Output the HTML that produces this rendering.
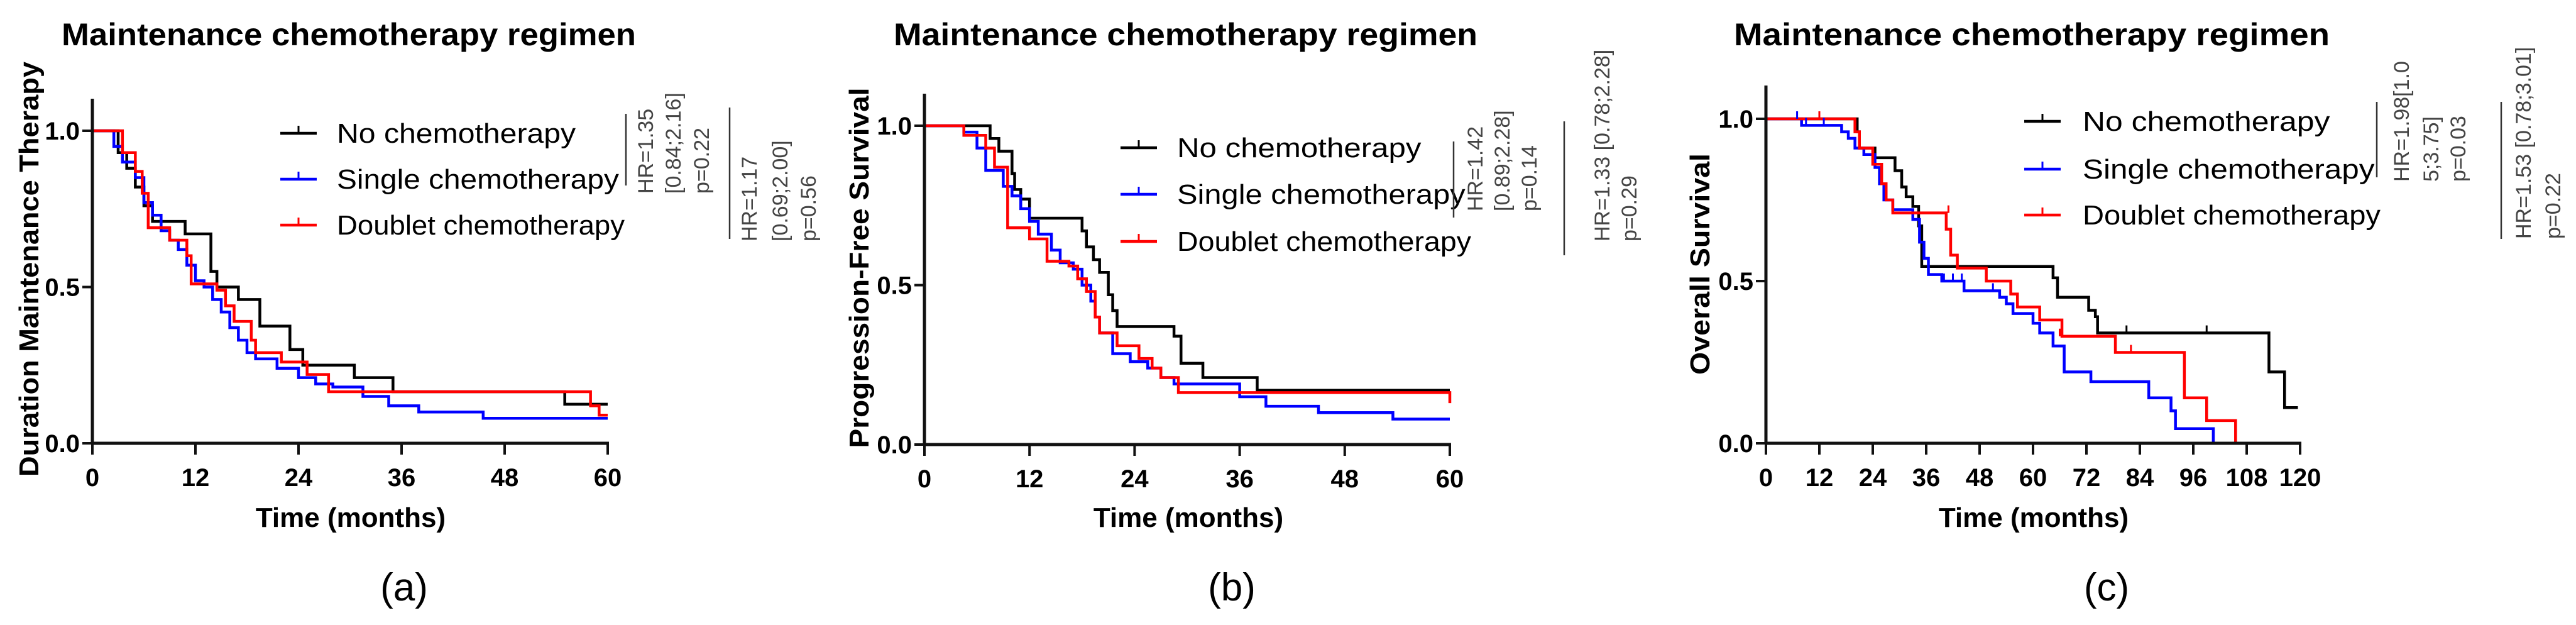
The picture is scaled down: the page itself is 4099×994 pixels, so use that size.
<!DOCTYPE html>
<html><head><meta charset="utf-8"><style>
html,body{margin:0;padding:0;background:#fff;}
svg{display:block;font-family:"Liberation Sans",Arial,sans-serif;}
</style></head><body>
<svg id="chart" width="4099" height="994" viewBox="0 0 4099 994" xmlns="http://www.w3.org/2000/svg"></svg>
<script>
// Panel (a) Duration maintenance therapy
const aBlackT=[0,3,4,5,6,7,10.8,13.8,14.5,17,19.5,23,24.5,30.5,35,55,60];
const aBlackS=[1,0.93,0.88,0.82,0.76,0.71,0.67,0.55,0.50,0.46,0.375,0.30,0.25,0.21,0.165,0.125,0.125];
const aBlueT=[0,2.5,3.5,5,6,7,8,9,10,11,12,13,14,15,16,17,18,19,21.5,24,26,28,31.5,34.5,38,45.5,60];
const aBlueS=[1,0.95,0.90,0.85,0.77,0.73,0.68,0.65,0.62,0.57,0.52,0.50,0.46,0.42,0.37,0.33,0.29,0.27,0.24,0.21,0.19,0.18,0.15,0.12,0.10,0.08,0.08];
const aRedT=[0,3.5,5,5.8,6.5,9,11,11.5,14.5,15.5,16.5,18.5,19,22,25,27.5,58,59,60];
const aRedS=[1,0.93,0.87,0.80,0.69,0.65,0.60,0.51,0.49,0.44,0.39,0.33,0.29,0.26,0.22,0.165,0.12,0.09,0.09];
// Panel (b) Progression-free survival
const bBlackT=[0,7.5,8.5,10,10.3,11,12,18,18.5,19.3,20,21,21.5,22,28.5,29.3,31.8,38,60];
const bBlackS=[1,0.96,0.92,0.85,0.80,0.77,0.71,0.67,0.62,0.58,0.54,0.47,0.42,0.37,0.34,0.255,0.21,0.17,0.17];
const bBlueT=[0,4.5,6,7,9,10,11,12,13,14.5,15.5,17,18,19,19.5,20,21.5,23.5,25.5,27,28.5,36,39,45,53.5,60];
const bBlueS=[1,0.98,0.93,0.86,0.81,0.78,0.74,0.70,0.66,0.61,0.57,0.55,0.50,0.45,0.40,0.35,0.285,0.26,0.24,0.21,0.19,0.15,0.12,0.10,0.08,0.08];
const bRedT=[0,4.5,7,8,9.5,12,14,16.5,17.5,18.5,19.5,20,22,24.5,26,27,29,60];
const bRedS=[1,0.97,0.93,0.87,0.68,0.645,0.575,0.56,0.52,0.48,0.40,0.35,0.31,0.27,0.24,0.21,0.163,0.13];
// Panel (c) Overall survival
const cBlackT=[0,20.5,21,24.5,29,30.5,31.5,33,34.3,35,64.5,65.5,72.5,74,74.5,113,116.5,119.5];
const cBlackS=[1,0.96,0.91,0.88,0.84,0.79,0.76,0.73,0.67,0.545,0.51,0.45,0.41,0.39,0.34,0.22,0.11,0.11];
const cBlueT=[0,8,17,18.5,20,22,24.5,25.5,26.5,28.5,33,34.5,35.5,36.5,39.5,44.5,52.5,54,55.5,60,61.5,64.5,67,73,86,91,92,100.5];
const cBlueS=[1,0.98,0.96,0.94,0.91,0.89,0.85,0.80,0.75,0.72,0.69,0.62,0.57,0.52,0.50,0.47,0.45,0.43,0.40,0.37,0.34,0.30,0.22,0.19,0.14,0.10,0.045,0];
const cRedT=[0,20,21,24,26,27,28.5,40.5,41.5,43,49.5,55,56.5,61.5,66.5,78.5,94,99,105.5];
const cRedS=[1,0.96,0.91,0.86,0.80,0.75,0.71,0.66,0.58,0.54,0.50,0.46,0.42,0.38,0.33,0.28,0.14,0.07,0];
// Censor marks
const cBlackCensT=[29,74,81,99];
const cBlackCensS=[0.84,0.39,0.34,0.34];
const cRedCensT=[12,41,66,82];
const cRedCensS=[1,0.71,0.33,0.28];
const cBlueCensT=[7,9,13,40,42,44,51];
const cBlueCensS=[1,0.98,0.98,0.50,0.50,0.50,0.47];

const xTicksA=[0,12,24,36,48,60];
const xTicksC=[0,12,24,36,48,60,72,84,96,108,120];
const yTicks=[0,0.5,1.0];
const yTickLabels=["0.0","0.5","1.0"];
const legendLabels=["No chemotherapy","Single chemotherapy","Doublet chemotherapy"];
const colors=["#000","#0000ff","#ff0000"];

const NS="http://www.w3.org/2000/svg";
const svg=document.getElementById('chart');
function mk(tag,attrs,parent,text){const e=document.createElementNS(NS,tag);for(const k in attrs)e.setAttribute(k,attrs[k]);if(text!==undefined)e.textContent=text;(parent||svg).appendChild(e);return e;}

const panels=[
 {id:'a',x0:147,x1:967,y0:705,y1:208,ytop:157,xmax:60,ticks:xTicksA,ylabel:"Duration Maintenance Therapy",ylx:45,ylyc:428,ylw:660,
  title:[98,1012],leg:{lx:446,tx:536,ys:[212,285,358],tw:458},xlab:558,cap:643,capT:"(a)",
  series:[[aBlackT,aBlackS],[aBlueT,aBlueS],[aRedT,aRedS]],
  hr:[{line:[996,181,295],tx:[1027,1071,1116],bot:308,lines:["HR=1.35","[0.84;2.16]","p=0.22"]},
      {line:[1161,171,380],tx:[1192,1241,1286],bot:384,lines:["HR=1.17","[0.69;2.00]","p=0.56"]}]},
 {id:'b',x0:1471,x1:2307,y0:707,y1:200,ytop:149,xmax:60,ticks:xTicksA,ylabel:"Progression-Free Survival",ylx:1366,ylyc:426,ylw:573,
  title:[1422,2351],leg:{lx:1783,tx:1873,ys:[235,309,384],tw:468},xlab:1891,cap:1960,capT:"(b)",
  series:[[bBlackT,bBlackS],[bBlueT,bBlueS],[bRedT,bRedS]],
  hr:[{line:[2313,225,346],tx:[2347,2390,2433],bot:336,lines:["HR=1.42","[0.89;2.28]","p=0.14"]},
      {line:[2489,193,406],tx:[2549,2592],bot:384,lines:["HR=1.33 [0.78;2.28]","p=0.29"]}]},
 {id:'c',x0:2810,x1:3660,y0:705,y1:189,ytop:136,xmax:120,ticks:xTicksC,ylabel:"Overall Survival",ylx:2704,ylyc:420,ylw:352,
  title:[2759,3707],leg:{lx:3221,tx:3314,ys:[193,269,342],tw:474},xlab:3236,cap:3352,capT:"(c)",
  series:[[cBlackT,cBlackS],[cBlueT,cBlueS],[cRedT,cRedS]],
  cens:[[cBlackCensT,cBlackCensS],[cBlueCensT,cBlueCensS],[cRedCensT,cRedCensS]],
  hr:[{line:[3782,162,282],tx:[3821,3868,3911],bot:289,lines:["HR=1.98[1.0","5;3.75]","p=0.03"]},
      {line:[3980,162,380],tx:[4015,4062],bot:380,lines:["HR=1.53 [0.78;3.01]","p=0.22"]}]}
];

panels.forEach(p=>{
  const g=mk('g',{});
  
  
  const X=t=>p.x0+(p.x1-p.x0)*t/p.xmax;
  const Y=s=>p.y0+(p.y1-p.y0)*s;
  const title=mk('text',{x:p.title[0],y:72,'font-size':50,'font-weight':'bold',textLength:p.title[1]-p.title[0],lengthAdjust:'spacingAndGlyphs'},g,"Maintenance chemotherapy regimen");
  
  
  // series
  p.series.forEach((s,i)=>{
    const T=s[0],S=s[1];let d='M'+X(T[0])+','+Y(S[0]);
    for(let k=1;k<T.length;k++){d+=' H'+X(T[k])+' V'+Y(S[k]);}
    const path=mk('path',{d:d,fill:'none',stroke:colors[i],'stroke-width':4.5},g);
    
    
  });
  if(p.cens){p.cens.forEach((c,i)=>{c[0].forEach((t,k)=>{
    const m=mk('line',{x1:X(t),x2:X(t),y1:Y(c[1][k]),y2:Y(c[1][k])-12,stroke:colors[i],'stroke-width':3},g);
    
    
  });});}
  // axes
  const ya=mk('line',{x1:p.x0,x2:p.x0,y1:p.ytop,y2:p.y0+2,stroke:'#111','stroke-width':5},g);
  
  
  const xa=mk('line',{x1:p.x0-2,x2:p.x1+2,y1:p.y0,y2:p.y0,stroke:'#111','stroke-width':5},g);
  
  
  p.ticks.forEach(t=>{
    mk('line',{x1:X(t),x2:X(t),y1:p.y0,y2:p.y0+18,stroke:'#111','stroke-width':4},g);
    const tl=mk('text',{x:X(t),y:p.y0+68,'font-size':40,'font-weight':'bold','text-anchor':'middle'},g,String(t));
    
    
  });
  yTicks.forEach((v,i)=>{
    mk('line',{x1:p.x0-16,x2:p.x0,y1:Y(v),y2:Y(v),stroke:'#111','stroke-width':4},g);
    const tl=mk('text',{x:p.x0-20,y:Y(v)+14,'font-size':40,'font-weight':'bold','text-anchor':'end'},g,yTickLabels[i]);
    
    
  });
  const xl=mk('text',{x:p.xlab,y:838,'font-size':44,'font-weight':'bold','text-anchor':'middle'},g,"Time (months)");
  
  
  const yl=mk('text',{x:0,y:0,'font-size':44,'font-weight':'bold','text-anchor':'middle',transform:`translate(${p.ylx+16},${p.ylyc}) rotate(-90)`,textLength:p.ylw,lengthAdjust:'spacingAndGlyphs'},g,p.ylabel);
  
  
  const cap=mk('text',{x:p.cap,y:955,'font-size':62,'text-anchor':'middle'},g,p.capT);
  
  
  // legend
  legendLabels.forEach((lab,i)=>{
    const y=p.leg.ys[i];
    const lg=mk('g',{},g);
    
    
    mk('line',{x1:p.leg.lx,x2:p.leg.lx+58,y1:y,y2:y,stroke:colors[i],'stroke-width':4.5},lg);
    mk('line',{x1:p.leg.lx+29,x2:p.leg.lx+29,y1:y,y2:y-12,stroke:colors[i],'stroke-width':3},lg);
    mk('text',{x:p.leg.tx,y:y+15,'font-size':44,textLength:[p.leg.tw*0.83,p.leg.tw*0.98,p.leg.tw][i],lengthAdjust:'spacingAndGlyphs'},lg,lab);
  });
  // HR annotations
  p.hr.forEach((h,j)=>{
    const hg=mk('g',{},g);
    
    
    mk('line',{x1:h.line[0],x2:h.line[0],y1:h.line[1],y2:h.line[2],stroke:'#333','stroke-width':2.5},hg);
    h.lines.forEach((s,k)=>{
      mk('text',{x:0,y:0,'font-size':34,fill:'#444',transform:`translate(${h.tx[k]+12},${h.bot}) rotate(-90)`},hg,s);
    });
  });
});
</script>
</body></html>
